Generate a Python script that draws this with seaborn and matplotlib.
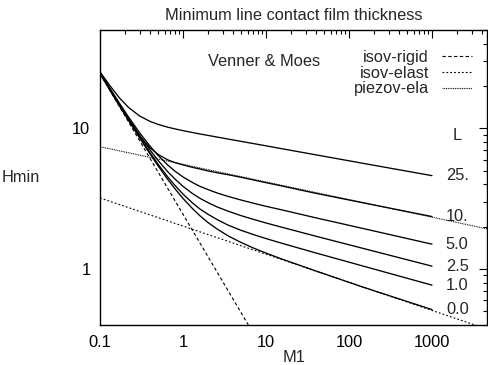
import numpy as np
import pandas as pd
import matplotlib
matplotlib.use("Agg")
import matplotlib.pyplot as plt
import seaborn as sns
from matplotlib.ticker import LogLocator, NullFormatter, FixedLocator, FixedFormatter

# ---- data ----
M_pts = [0.1, 0.13, 0.17, 0.22, 0.3, 0.4, 0.5, 0.65, 0.8, 1, 1.3, 1.6, 2,
         2.6, 3.5, 5, 7, 10, 15, 40, 150, 1000]
L_labels = ["25.", "10.", "5.0", "2.5", "1.0", "0.0"]
H_L25 = [25.2, 20.31, 16.55, 14.10, 12.24, 11.21, 10.67, 10.20, 9.91, 9.63,
         9.34, 9.12, 8.91, 8.66, 8.39, 8.08, 7.80, 7.51, 7.19, 6.48, 5.63, 4.61]
H_L10 = [24.55, 18.94, 14.58, 11.46, 8.81, 7.27, 6.53, 5.98, 5.71, 5.50,
         5.28, 5.14, 4.98, 4.83, 4.68, 4.49, 4.30, 4.11, 3.91, 3.45, 2.95, 2.36]
H_L5 = [25.04, 19.50, 15.19, 12.07, 9.30, 7.48, 6.43, 5.51, 4.96, 4.51,
        4.12, 3.87, 3.67, 3.465, 3.28, 3.094, 2.94, 2.79, 2.645, 2.31, 1.937, 1.502]
H_L2_5 = [24.87, 19.29, 14.93, 11.76, 8.93, 7.02, 5.92, 4.94, 4.36, 3.87,
          3.44, 3.18, 2.965, 2.756, 2.577, 2.396, 2.257, 2.124, 1.992, 1.71, 1.398, 1.048]
H_L1 = [24.74, 19.14, 14.75, 11.55, 8.66, 6.71, 5.57, 4.54, 3.93, 3.41,
        2.95, 2.67, 2.45, 2.24, 2.05, 1.884, 1.760, 1.646, 1.533, 1.30, 1.047, 0.768]
H_L0 = [24.71, 19.09, 14.69, 11.47, 8.56, 6.59, 5.42, 4.36, 3.72, 3.175,
        2.69, 2.39, 2.14, 1.917, 1.72, 1.544, 1.413, 1.298, 1.186, 0.968, 0.741, 0.515]
L_curves = [H_L25, H_L10, H_L5, H_L2_5, H_L1, H_L0]

rigid_M = [0.1, 10]
rigid_H = [24.5, 0.245]
elast_M = [0.1, 5000]
elast_H = [3.2, 0.368]
piezo_M = [0.1, 5000]
piezo_H = [7.4, 1.91]

x_ticks = [0.1, 1, 10, 100, 1000]
x_ticklabels = ["0.1", "1", "10", "100", "1000"]
y_ticks = [1, 10]
y_ticklabels = ["1", "10"]

# ---- style ----
sns.set_style("white")
plt.rcParams["font.family"] = ["Liberation Sans", "DejaVu Sans"]
FS = 11.8

fig = plt.figure(figsize=(4.88, 3.65), dpi=100)
ax = fig.add_axes([100/488, 1-325/365, 387/488, 295/365])

for H in L_curves:
    sns.lineplot(x=M_pts, y=H, color="black", lw=0.95, ax=ax, sort=False)

sns.lineplot(x=rigid_M, y=rigid_H, color="black", lw=0.8, ax=ax,
             label="isov-rigid", linestyle=(0, (3.0, 2.2)))
sns.lineplot(x=elast_M, y=elast_H, color="black", lw=0.8, ax=ax,
             label="isov-elast", linestyle=(0, (1.6, 1.9)))
sns.lineplot(x=piezo_M, y=piezo_H, color="black", lw=0.8, ax=ax,
             label="piezov-ela", linestyle=(0, (0.8, 0.8)))

ax.set_xscale("log")
ax.set_yscale("log")
ax.set_xlim(0.1, 4600)
ax.set_ylim(0.4, 50)

ax.xaxis.set_major_locator(FixedLocator(x_ticks))
ax.xaxis.set_major_formatter(FixedFormatter(x_ticklabels))
ax.xaxis.set_minor_locator(LogLocator(base=10, subs=np.arange(2, 10)))
ax.xaxis.set_minor_formatter(NullFormatter())
ax.yaxis.set_major_locator(FixedLocator(y_ticks))
ax.yaxis.set_major_formatter(FixedFormatter(y_ticklabels))
ax.yaxis.set_minor_locator(LogLocator(base=10, subs=np.arange(2, 10)))
ax.yaxis.set_minor_formatter(NullFormatter())

ax.tick_params(which="both", direction="in", top=True, right=True,
               labelsize=FS, colors="black")
ax.tick_params(which="major", length=6, width=0.8, pad=7)
ax.tick_params(which="minor", length=3, width=0.8)
for s in ax.spines.values():
    s.set_color("black")
    s.set_linewidth(1.0)

ax.set_title("Minimum line contact film thickness", fontsize=FS, pad=7)
ax.set_xlabel("M1", fontsize=FS, labelpad=0)
ax.set_ylabel("Hmin", fontsize=FS, rotation=0, va="center", ha="center")
ax.yaxis.set_label_coords(-0.204, 0.5)

ax.text(0.279, 0.8925, "Venner & Moes", transform=ax.transAxes,
        fontsize=FS, va="center", ha="left")

for H, lab in zip(L_curves, L_labels):
    ax.annotate(lab, xy=(M_pts[-1], H[-1]), xytext=(10, 0),
                textcoords="offset points", fontsize=FS, va="center", ha="left")
ax.text(0.912, 0.644, "L", transform=ax.transAxes, fontsize=FS,
        va="center", ha="left")

ax.legend(loc="upper right", bbox_to_anchor=(0.961, 0.933), frameon=False,
          markerfirst=False, fontsize=FS, labelspacing=0.05,
          handlelength=1.83, handletextpad=0.8, borderaxespad=0.0,
          borderpad=0.0)

fig.savefig("out.png", dpi=100)
